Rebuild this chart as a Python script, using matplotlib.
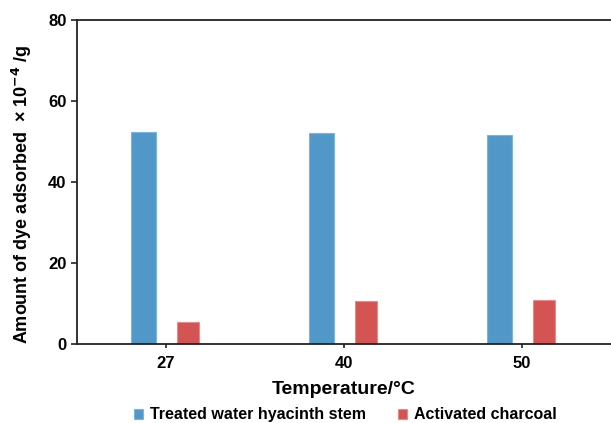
import matplotlib
matplotlib.use('Agg')
import matplotlib.pyplot as plt
import numpy as np

# dados
temperaturas = ['27', '40', '50']
aguape_tratado = [52.4, 52.0, 51.5]
carvao_ativado = [5.3, 10.5, 10.9]

plt.rcParams['font.family'] = ['Liberation Sans', 'DejaVu Sans']
plt.rcParams['font.weight'] = 'bold'

fig = plt.figure(figsize=(6.11, 4.23), dpi=100)
ax = fig.add_axes([0.126, 0.187, 0.874, 0.766])

x = np.arange(len(temperaturas))
ax.bar(x - 0.125, aguape_tratado, width=0.14, color='#5198c8', edgecolor='#7bb4dc',
       linewidth=0.8, label='Treated water hyacinth stem')
ax.bar(x + 0.125, carvao_ativado, width=0.125, color='#d45454', edgecolor='#e88a8a',
       linewidth=0.8, label='Activated charcoal')

ax.set_xlim(-0.5, 2.5)
ax.set_ylim(0, 80)
ax.set_yticks([0, 20, 40, 60, 80])
ax.set_xticks(x)
ax.set_xticklabels(temperaturas)
ax.tick_params(axis='both', labelsize=12, width=1.2, length=4, colors='#222222')
ax.tick_params(axis='x', length=3, pad=6)
for lbl in ax.get_xticklabels() + ax.get_yticklabels():
    lbl.set_fontweight('bold')
    lbl.set_color('black')

for s in ax.spines.values():
    s.set_linewidth(1.3)
    s.set_color('#222222')
ax.spines['right'].set_visible(False)

ax.set_xlabel('Temperature/°C', fontsize=14, fontweight='bold', labelpad=7)
ax.set_ylabel('Amount of dye adsorbed  × 10$^{-4}$ /g', fontsize=13, fontweight='bold')
ax.yaxis.set_label_coords(-0.081, 0.463)

ax.legend(loc='lower center', bbox_to_anchor=(0.565, -0.017), bbox_transform=fig.transFigure,
          ncol=2, frameon=False, handlelength=0.6, handleheight=0.6, handletextpad=0.4,
          columnspacing=2.0, borderaxespad=0.1, prop={'weight': 'bold', 'size': 11.5})

plt.savefig('out.png', dpi=100)
